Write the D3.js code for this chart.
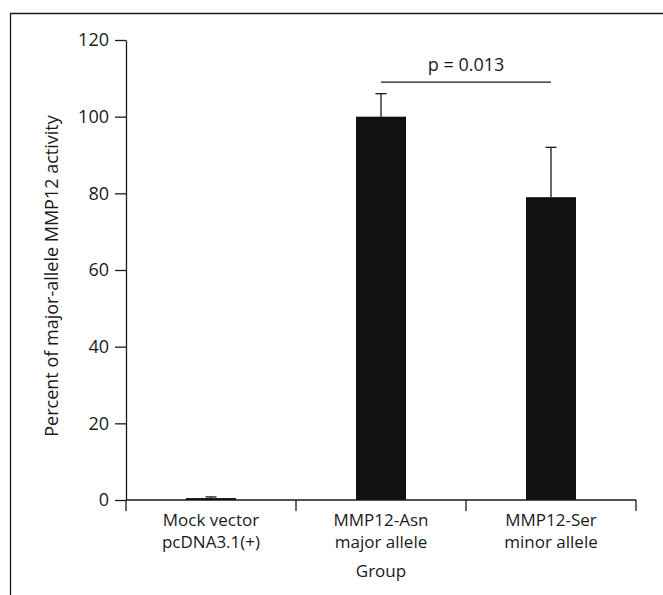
<!DOCTYPE html>
<html>
<head>
<meta charset="utf-8">
<script src="https://cdn.jsdelivr.net/npm/d3@7"></script>
<style>
  body { margin: 0; background: #fff; }
  text { font-family: "Open Sans", "Noto Sans", sans-serif; fill: #1a1a1a; }
</style>
</head>
<body>
<svg width="663" height="595"></svg>
<script>
// data
const groups = ["Mock vector\npcDNA3.1(+)", "MMP12-Asn\nmajor allele", "MMP12-Ser\nminor allele"];
const means = [0.5, 100, 79];
const errUp = [0.3, 6, 13];
const yTicks = [0, 20, 40, 60, 80, 100, 120];
const pLabel = "p = 0.013";
const pPair = [1, 2]; //which groups the bracket joins
const pLevel = 109; //height of the bracket, in axis units

const svg = d3.select("svg");
var width = +svg.attr("width");
var height = +svg.attr("height");

const INK = "#1a1a1a";
const BAR_W = 50;
const FONT = 18;

// plot area (note: "top" is taken by window.top, hence the prefix)
var plotLeft = 126, plotRight = 636, plotTop = 40, plotBottom = 500;

// frame round the panel (top + left only, right side is cut off in the original)
svg.append("path")
  .attr("d", "M10.5," + height + "V13.5H" + width)
  .attr("fill", "none")
  .attr("stroke", INK)
  .attr("stroke-width", 1.3);

var x = d3.scaleBand().domain(d3.range(groups.length)).range([plotLeft, plotRight]);
var y = d3.scaleLinear().domain([0, 120]).range([plotBottom, plotTop]);

// y axis
var yAxis = svg.append("g")
  .attr("transform", "translate(" + plotLeft + ",0)")
  .call(d3.axisLeft(y).tickValues(yTicks).tickSize(11).tickPadding(6).tickSizeOuter(0));
yAxis.select(".domain").attr("stroke", INK).attr("stroke-width", 1.3);
yAxis.selectAll(".tick line").attr("stroke", INK).attr("stroke-width", 1.3);
yAxis.selectAll(".tick text").attr("font-size", FONT).attr("fill", INK)
  .style("font-family", "'Open Sans', sans-serif");

// x axis: baseline with group separators pointing down
svg.append("line")
  .attr("x1", plotLeft).attr("x2", plotRight)
  .attr("y1", y(0)).attr("y2", y(0))
  .attr("stroke", INK).attr("stroke-width", 1.3);

var seps = d3.range(groups.length + 1).map(function (i) {
  return i < groups.length ? x(i) : x(groups.length - 1) + x.bandwidth();
});
svg.append("g").selectAll("line")
  .data(seps)
  .join("line")
  .attr("x1", function (d) { return d; })
  .attr("x2", function (d) { return d; })
  .attr("y1", y(0))
  .attr("y2", y(0) + 11)
  .attr("stroke", INK)
  .attr("stroke-width", 1.3);

// bars
svg.append("g").selectAll("rect")
  .data(means)
  .join("rect")
  .attr("x", function (d, i) { return x(i) + x.bandwidth() / 2 - BAR_W / 2; })
  .attr("y", function (d) { return y(d); })
  .attr("width", BAR_W)
  .attr("height", function (d) { return y(0) - y(d); })
  .attr("fill", "#111");

// error bars (upper only)
var eb = svg.append("g").attr("stroke", INK).attr("stroke-width", 1.3);
means.forEach(function (m, i) {
  var cx = x(i) + x.bandwidth() / 2;
  eb.append("line")
    .attr("x1", cx).attr("x2", cx)
    .attr("y1", y(m)).attr("y2", y(m + errUp[i]));
  eb.append("line")
    .attr("x1", cx - 5.5).attr("x2", cx + 5.5)
    .attr("y1", y(m + errUp[i])).attr("y2", y(m + errUp[i]));
});

// category labels, two lines each (one text per line)
var lines = [];
groups.forEach(function (g, i) {
  g.split("\n").forEach(function (s, k) {
    lines.push({ i: i, k: k, s: s });
  });
});
svg.append("g").selectAll("text")
  .data(lines)
  .join("text")
  .attr("x", function (d) { return x(d.i) + x.bandwidth() / 2; })
  .attr("y", function (d) { return y(0) + 26 + d.k * 22; })
  .attr("text-anchor", "middle")
  .attr("font-size", 17)
  .text(function (d) { return d.s; });

// axis titles
svg.append("text")
  .attr("x", (plotLeft + plotRight) / 2)
  .attr("y", 577)
  .attr("text-anchor", "middle")
  .attr("font-size", 17)
  .text("Group");

svg.append("text")
  .attr("transform", "translate(58," + 276 + ") rotate(-90)")
  .attr("text-anchor", "middle")
  .attr("font-size", FONT)
  .text("Percent of major-allele MMP12 activity");

// significance bracket
var px1 = x(pPair[0]) + x.bandwidth() / 2;
var px2 = x(pPair[1]) + x.bandwidth() / 2;
svg.append("line")
  .attr("x1", px1).attr("x2", px2)
  .attr("y1", y(pLevel)).attr("y2", y(pLevel))
  .attr("stroke", INK).attr("stroke-width", 1.3);
svg.append("text")
  .attr("x", (px1 + px2) / 2)
  .attr("y", y(pLevel) - 11)
  .attr("text-anchor", "middle")
  .attr("font-size", FONT)
  .text(pLabel);
</script>
</body>
</html>
